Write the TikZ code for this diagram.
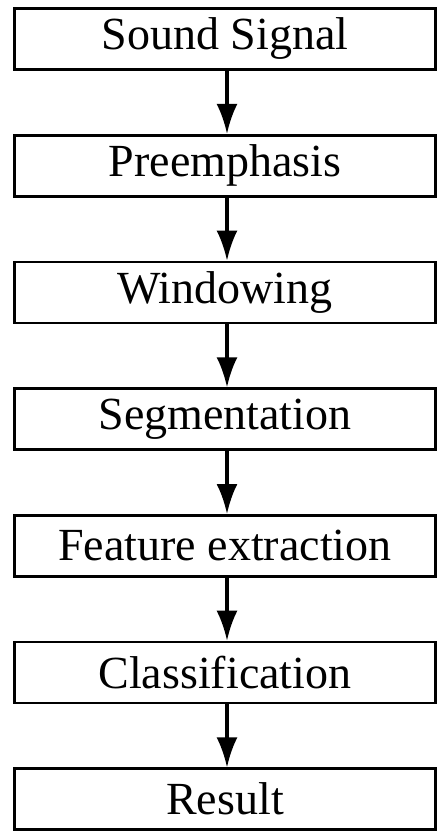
\documentclass[tikz,border=0pt]{standalone}
\usepackage{fontspec}
\setmainfont{Liberation Serif}
\usetikzlibrary{arrows.meta}
\begin{document}
\begin{tikzpicture}[x=1pt,y=-1pt,
  stepbox/.style={draw=black,line width=2.6pt,minimum width=421pt,minimum height=61pt,inner sep=0pt,
    font=\fontsize{46}{50}\selectfont,fill=white},
  flow/.style={line width=3.2pt,-{Latex[length=30pt,width=21pt]}}]
\useasboundingbox (0,0) rectangle (437,836);
\node[stepbox] (s1) at (225,39) {Sound Signal};
\node[stepbox] (s2) at (225,165.7) {Preemphasis};
\node[stepbox] (s3) at (225,292.4) {Windowing};
\node[stepbox] (s4) at (225,419.1) {Segmentation};
\node[stepbox] (s5) at (225,545.8) {Feature extraction};
\node[stepbox] (s6) at (225,672.5) {Classification};
\node[stepbox] (s7) at (225,799.2) {Result};
\foreach \a/\b in {s1/s2,s2/s3,s3/s4,s4/s5,s5/s6,s6/s7}
  \draw[flow] ([xshift=2pt]\a.south) -- ([xshift=2pt]\b.north);
\end{tikzpicture}
\end{document}
